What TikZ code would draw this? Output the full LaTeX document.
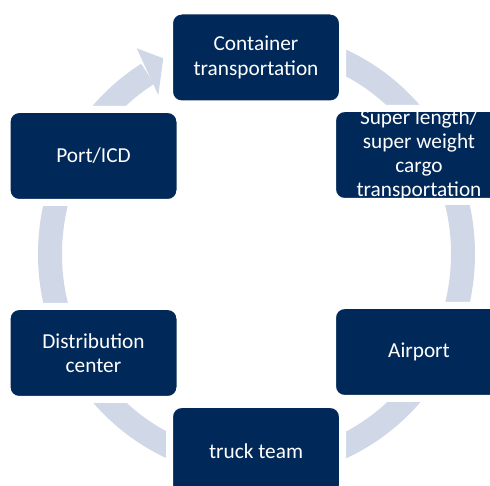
\documentclass[tikz,border=0pt]{standalone}
\usepackage{fontspec}
\setmainfont{Carlito}
\definecolor{navy}{RGB}{0,41,89}
\definecolor{ringc}{RGB}{208,215,231}
\begin{document}
\begin{tikzpicture}[x=1pt,y=1pt,
  box/.style={rectangle, rounded corners=12pt, fill=navy, draw=white, line width=7pt,
    minimum width=173pt, minimum height=93pt, outer sep=0pt, inner sep=0pt,
    text=white, align=center, font=\fontsize{21.3}{24.5}\selectfont},
  boxtext/.style={text=white, align=center, inner sep=0pt, font=\fontsize{21.3}{24}\selectfont}]
\useasboundingbox (0,0) rectangle (490,486);
\clip (0,0) rectangle (490,486);
% cycle ring with arrow head
\draw[ringc, line width=24pt] (256.5,232) ++(85:206.5 and 212)
  arc[start angle=85, end angle=-238.2, x radius=206.5, y radius=212];
\coordinate (h1) at (136.7,437.7);
\coordinate (ht) at (163.3,427.7);
\coordinate (h2) at (158.3,391);
\fill[ringc] (h1) -- (ht) -- (h2) -- cycle;
% boxes
\node[box] (cont) at (256,428.5) {Container\\transportation};
\node[box] (port) at (93.5,330) {Port/ICD};
\node[box] (dist) at (93.5,133) {Distribution\\center};
\node[box] (truck) at (256,35) {truck team};
\node[box] (air) at (419,134) {Airport};
\node[box] (sup) at (419,331) {};
\begin{scope}
  \clip[rounded corners=9pt] ([shift={(3.5,3.5)}]sup.south west) rectangle ([shift={(-3.5,-3.5)}]sup.north east);
  \node[boxtext] (suptext) at (sup.center) {Super length/\\super weight\\cargo\\transportation};
\end{scope}
\end{tikzpicture}
\end{document}
